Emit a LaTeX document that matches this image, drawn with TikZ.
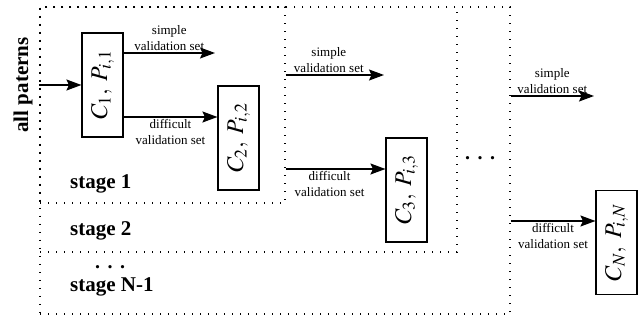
\documentclass[tikz,border=0pt]{standalone}
\usepackage{mathptmx}
\usepackage{fontspec}
\setmainfont{Liberation Serif}
\usepackage{graphicx}
\usetikzlibrary{arrows.meta}
\tikzset{
 stagebox/.style={draw, line width=1.3pt, dash pattern=on 1.3pt off 6.7pt, inner sep=0pt},
 clf/.style={draw, line width=1.1pt, inner sep=0pt, minimum width=41pt, minimum height=104pt, fill=white},
 arr/.style={line width=1.3pt, -{Stealth[length=15pt,width=11pt,inset=2.5pt]}},
 lbl/.style={font=\fontsize{13}{16}\selectfont, align=center, inner sep=1.5pt},
 stagelbl/.style={font=\fontsize{21}{24}\selectfont\bfseries, anchor=west, inner sep=0pt},
 dotsl/.style={font=\fontsize{20}{24}\selectfont\bfseries, anchor=base, inner sep=0pt},
}
\newcommand{\clflabel}[1]{\rotatebox{90}{\fontsize{24}{26}\selectfont $#1$}}
\begin{document}
\begin{tikzpicture}[x=1pt,y=-1pt]
\useasboundingbox (0,0) rectangle (640,320);
% stage boxes
\node[stagebox, minimum width=470pt, minimum height=307pt] (sN) at (275,160.5) {};
\node[stagebox, minimum width=417pt, minimum height=245pt] (s2) at (248.5,129.5) {};
\node[stagebox, minimum width=245pt, minimum height=196pt] (s1) at (162.5,105) {};
% classifiers
\node[clf] (C1) at (102.5,85) {\clflabel{C_1,\;P_{i,1}}};
\node[clf] (C2) at (238.5,138) {\clflabel{C_2,\;P_{i,2}}};
\node[clf] (C3) at (406.5,190) {\clflabel{C_3,\;P_{i,3}}};
\node[clf] (CN) at (616.5,242.5) {\clflabel{C_N,\;P_{i,N}}};
% input
\node[rotate=90, font=\fontsize{21}{24}\selectfont\bfseries] (ap) at (23,85) {all paterns};
\draw[arr] (s1.west |- C1.west) -- (C1.west);
% coordinates
\coordinate (a1) at (215,53);
\coordinate (d1) at (0,117);
\coordinate (a2) at (384,75);
\coordinate (d2) at (0,169);
\coordinate (a3) at (594,96);
\coordinate (d3) at (0,221);
% arrows
\draw[arr] (C1.east |- a1) -- (a1) node[lbl, midway, above] (l1) {simple\\validation set};
\draw[arr] (C1.east |- d1) -- (C2.west |- d1) node[lbl, midway, below] (l2) {difficult\\validation set};
\draw[arr] (s1.east |- a2) -- (a2) node[lbl, midway, above, xshift=-6pt] (l3) {simple\\validation set};
\draw[arr] (s1.east |- d2) -- (C3.west |- d2) node[lbl, midway, below, xshift=-6pt] (l4) {difficult\\validation set};
\draw[arr] (sN.east |- a3) -- (a3) node[lbl, midway, above] (l5) {simple\\validation set};
\draw[arr] (sN.east |- d3) -- (CN.west |- d3) node[lbl, midway, below] (l6) {difficult\\validation set};
% stage labels
\node[stagelbl] (t1) at (70,184) {stage 1};
\node[stagelbl] (t2) at (70,231) {stage 2};
\node[stagelbl] (tN) at (70,287) {stage N-1};
\node[dotsl] (dd1) at (110,268.5) {.\hspace{7.5pt}.\hspace{7.5pt}.};
\node[dotsl] (dd2) at (480,159.5) {.\hspace{7.5pt}.\hspace{7.5pt}.};
\end{tikzpicture}
\end{document}
